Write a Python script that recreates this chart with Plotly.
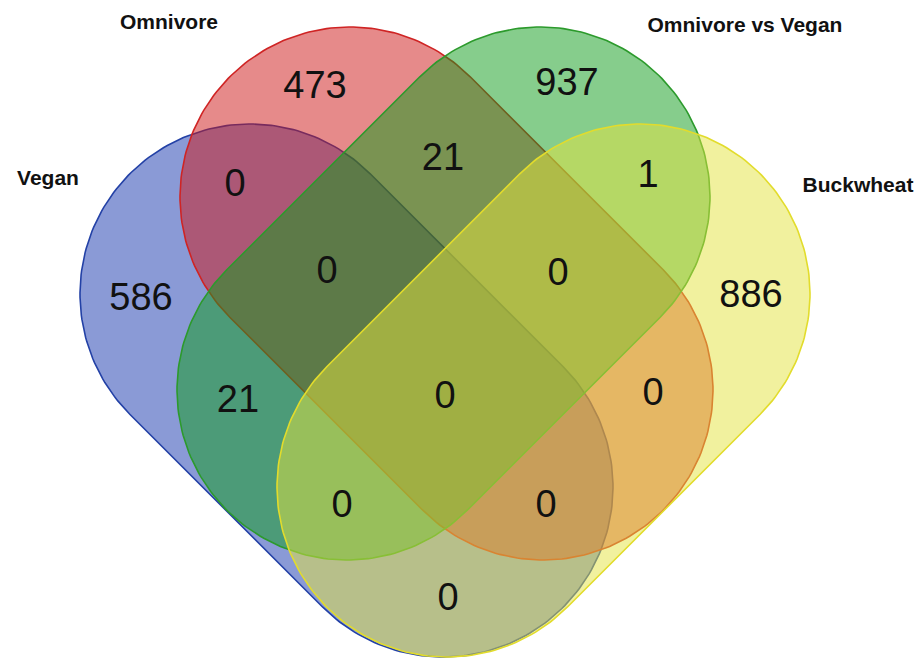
import numpy as np
import plotly.graph_objects as go

# ---- data ----
set_names = ["Vegan", "Omnivore", "Omnivore vs Vegan", "Buckwheat"]
set_fill = ["rgba(21,53,173,0.5)", "rgba(205,21,21,0.5)", "rgba(13,155,25,0.5)", "rgba(228,228,62,0.5)"]
set_line = ["#2341a6", "#cf2424", "#2c9a2c", "#e2dc2c"]

# region counts (order matches region_x / region_y)
region_counts = [473, 937, 0, 21, 1, 586, 0, 0, 886, 21, 0, 0, 0, 0, 0]
region_x = [315, 567, 235, 443, 648, 141, 327, 558, 751, 238, 445, 653, 342, 546, 448]
region_y = [88, 85, 186, 160, 177, 300, 273, 275, 297, 402, 398, 395, 507, 507, 600]

# set label positions
label_x = [48, 169, 745, 858]
label_y = [180, 24, 27, 187]

# capsule geometry (start centre, end centre) in page units
R = 170
caps_start = [(250, 294), (350, 197), (540, 197), (640, 294)]
caps_end = [(443, 487), (543, 390), (347, 390), (447, 487)]

# page offset (default body margin of the html page)
OFF = 8
W, H = 922, 659


def capsule(c1, c2, r, n=120):
    c1 = np.array(c1, float)
    c2 = np.array(c2, float)
    u = c2 - c1
    a = np.arctan2(u[1], u[0])
    t2 = np.linspace(a - np.pi / 2, a + np.pi / 2, n)
    t1 = np.linspace(a + np.pi / 2, a + 3 * np.pi / 2, n)
    xs = np.concatenate([c2[0] + r * np.cos(t2), c1[0] + r * np.cos(t1), [c2[0] + r * np.cos(t2[0])]])
    ys = np.concatenate([c2[1] + r * np.sin(t2), c1[1] + r * np.sin(t1), [c2[1] + r * np.sin(t2[0])]])
    return xs, ys


fig = go.Figure()
for i, name in enumerate(set_names):
    xs, ys = capsule(caps_start[i], caps_end[i], R)
    fig.add_trace(go.Scatter(
        x=xs, y=ys, mode="lines", fill="toself",
        fillcolor=set_fill[i], line=dict(color=set_line[i], width=1.6),
        hoverinfo="skip", showlegend=False, name=name,
    ))

fig.add_trace(go.Scatter(
    x=region_x, y=region_y, mode="text",
    text=[str(v) for v in region_counts],
    textfont=dict(family="Liberation Sans, Arial, sans-serif", size=38, color="#111111"),
    hoverinfo="skip", showlegend=False,
))

fig.add_trace(go.Scatter(
    x=label_x, y=label_y, mode="text",
    text=["<b>%s</b>" % s for s in set_names],
    textfont=dict(family="Liberation Sans, Arial, sans-serif", size=21, color="#111111"),
    hoverinfo="skip", showlegend=False,
))

fig.update_layout(
    width=W - OFF, height=H - OFF,
    margin=dict(l=0, r=0, t=0, b=0),
    paper_bgcolor="white", plot_bgcolor="white",
    xaxis=dict(range=[OFF, W], visible=False, fixedrange=True),
    yaxis=dict(range=[H, OFF], visible=False, fixedrange=True),
)

fig.write_html("out.html")
